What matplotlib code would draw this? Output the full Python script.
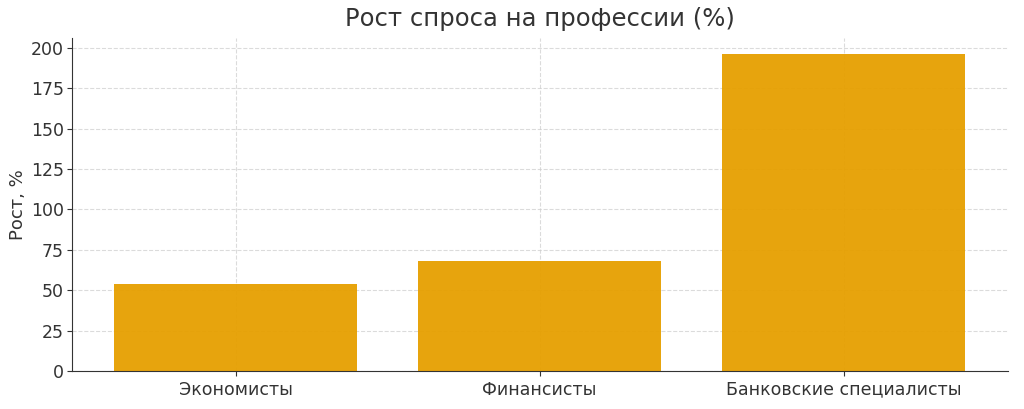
import matplotlib
matplotlib.use("Agg")
import matplotlib.pyplot as plt

categories = ["Экономисты", "Финансисты", "Банковские специалисты"]
growth = [54, 68, 196]

fig = plt.figure(figsize=(10.24, 4.09), dpi=100)
ax = fig.add_axes([0.070, 0.093, 0.914, 0.813])

ax.bar(categories, growth, width=0.8, color="#E69F00", alpha=0.95, zorder=2)
ax.grid(True, linestyle="--", color="#cccccc", linewidth=0.8, alpha=0.7, zorder=3)

ax.set_title("Рост спроса на профессии (%)", fontsize=17.5, color="#333333", pad=9)
ax.set_ylabel("Рост, %", fontsize=13, color="#333333", labelpad=3)
ax.tick_params(axis="both", labelsize=12.5, colors="#333333")
ax.tick_params(axis="y", pad=2)
ax.set_yticks([0, 25, 50, 75, 100, 125, 150, 175, 200])

for side in ("top", "right"):
    ax.spines[side].set_visible(False)
for side in ("left", "bottom"):
    ax.spines[side].set_color("#333333")

fig.savefig("out.png", dpi=100)
